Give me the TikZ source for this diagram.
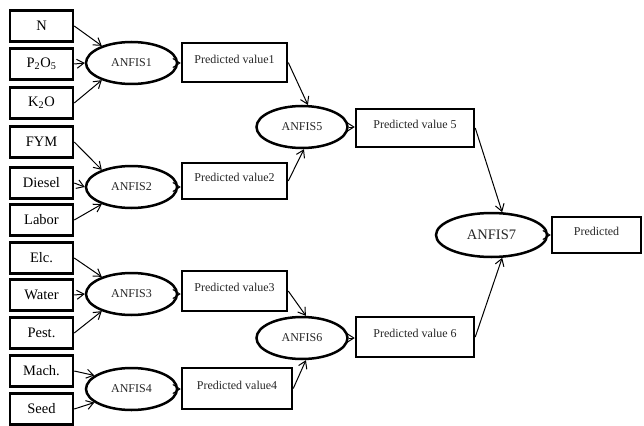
\documentclass[tikz,border=0pt]{standalone}
\usepackage{fontspec}
\setmainfont{Liberation Serif}
\usetikzlibrary{shapes.geometric,arrows.meta}

\tikzset{
  inbox/.style={draw, line width=2.5pt, minimum width=63pt, minimum height=31pt,
    inner sep=0pt, font=\fontsize{14.5}{16}\selectfont},
  anfis/.style={draw, ellipse, line width=2.5pt, inner sep=0pt,
    minimum width=91pt, minimum height=42pt, font=\fontsize{12}{14}\selectfont, text=black!85},
  pvbox/.style={draw, line width=2.5pt, inner sep=0pt, text height=8.5pt, text depth=7pt,
    font=\fontsize{12}{14}\selectfont, text=black!85},
  arr/.style={line width=1pt, -{Straight Barb[length=7pt,width=9pt,line width=1pt]}},
}

\begin{document}
\begin{tikzpicture}[x=1pt,y=-1pt]
\useasboundingbox (0,0) rectangle (644,425);

% input variables
\node[inbox] (n)    at (41.5,26)  {N};
\node[inbox] (p)    at (41.5,64)  {P\textsubscript{2}O\textsubscript{5}};
\node[inbox] (k)    at (41.5,103) {K\textsubscript{2}O};
\node[inbox] (fym)  at (41.5,142) {FYM};
\node[inbox] (dsl)  at (41.5,183) {Diesel};
\node[inbox] (lab)  at (41.5,220) {Labor};
\node[inbox] (elc)  at (41.5,258) {Elc.};
\node[inbox] (wat)  at (41.5,295) {Water};
\node[inbox] (pst)  at (41.5,333) {Pest.};
\node[inbox] (mch)  at (41.5,371) {Mach.};
\node[inbox] (sd)   at (41.5,409) {Seed};

% first-level models
\node[anfis] (a1) at (131.5,63)  {ANFIS1};
\node[anfis] (a2) at (131.5,187) {ANFIS2};
\node[anfis] (a3) at (131.5,294) {ANFIS3};
\node[anfis] (a4) at (131.5,389) {ANFIS4};

\node[pvbox, minimum width=105pt, minimum height=39pt] (v1) at (234.5,62.5) {Predicted value1};
\node[pvbox, minimum width=105pt, minimum height=36pt] (v2) at (234.5,181)  {Predicted value2};
\node[pvbox, minimum width=105pt, minimum height=40pt] (v3) at (234.5,291)  {Predicted value3};
\node[pvbox, minimum width=110pt, minimum height=41pt] (v4) at (237,388.5)  {Predicted value4};

% second-level models
\node[anfis] (a5) at (302,127) {ANFIS5};
\node[anfis] (a6) at (302,338) {ANFIS6};

\node[pvbox, minimum width=118pt, minimum height=38pt] (v5) at (415,128) {Predicted value 5};
\node[pvbox, minimum width=118pt, minimum height=40pt] (v6) at (415,337) {Predicted value 6};

% final model
\node[anfis, minimum width=111pt, minimum height=44pt, font=\fontsize{14.5}{16}\selectfont] (a7) at (491.5,235) {ANFIS7};
\node[pvbox, minimum width=89pt, minimum height=36pt] (out) at (596.5,235) {Predicted};

% inputs to first-level models
\draw[arr] (n.east)   -- (a1.150);
\draw[arr] (p.east)   -- (a1.west);
\draw[arr] (k.east)   -- (a1.-150);
\draw[arr] (fym.east) -- (a2.150);
\draw[arr] (dsl.east) -- (a2.west);
\draw[arr] (lab.east) -- (a2.-150);
\draw[arr] (elc.east) -- (a3.150);
\draw[arr] (wat.east) -- (a3.west);
\draw[arr] (pst.east) -- (a3.-150);
\draw[arr] (mch.east) -- (a4.160);
\draw[arr] (sd.east)  -- (a4.-160);

% model outputs
\draw[arr] (a1.east) -- (a1.east -| v1.west);
\draw[arr] (a2.east) -- (a2.east -| v2.west);
\draw[arr] (a3.east) -- (a3.east -| v3.west);
\draw[arr] (a4.east) -- (a4.east -| v4.west);

\draw[arr] (v1.east) -- (a5.75);
\draw[arr] (v2.east) -- (a5.-85);
\draw[arr] (v3.east) -- (a6.80);
\draw[arr] (v4.east) -- (a6.-80);

\draw[arr] (a5.east) -- (a5.east -| v5.west);
\draw[arr] (a6.east) -- (a6.east -| v6.west);

\draw[arr] (v5.east) -- (a7.65);
\draw[arr] (v6.east) -- (a7.-65);
\draw[arr] (a7.east) -- (a7.east -| out.west);
\end{tikzpicture}
\end{document}
